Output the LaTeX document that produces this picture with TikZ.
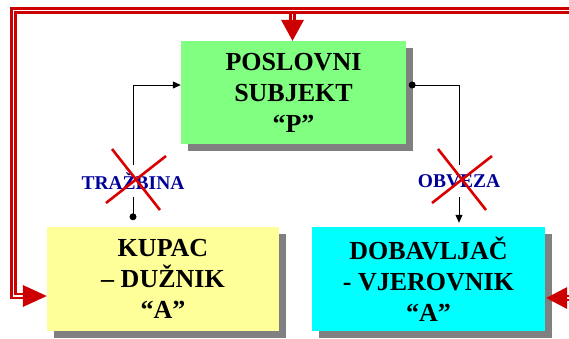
\documentclass[tikz,border=0pt]{standalone}
\usepackage{fontspec}
\setmainfont{Liberation Serif}
\usetikzlibrary{arrows.meta,shadows}
\definecolor{myred}{RGB}{204,0,0}
\definecolor{crossred}{RGB}{218,0,0}
\definecolor{boxgreen}{RGB}{128,255,128}
\definecolor{boxyellow}{RGB}{255,255,153}
\definecolor{boxcyan}{RGB}{0,255,255}
\definecolor{shadowgray}{RGB}{128,128,128}
\definecolor{lblblue}{RGB}{0,0,153}
\begin{document}
\begin{tikzpicture}[x=1pt,y=-1pt,
  box/.style={general shadow={fill=shadowgray, shadow xshift=7pt, shadow yshift=-7pt},
    align=center, inner sep=0pt, font=\fontsize{26}{31}\selectfont\bfseries},
  conn/.style={draw=black, line width=1pt},
  tip/.style={-{Triangle[length=8pt,width=7pt]}},
  lbl/.style={fill=white, inner sep=1pt, minimum height=32pt, text=lblblue,
    font=\fontsize{19.5}{22}\selectfont\bfseries},
  xcross/.style={draw=crossred, line width=2.6pt},
  redline/.style={draw=myred, double=white, line width=2.3pt, double distance=1.6pt},
  redhead/.style={fill=myred}]
\useasboundingbox (0,0) rectangle (569,338);

% boxes
\node[box, fill=boxgreen, minimum width=225pt, minimum height=103pt] (green) at (293.5,92.5)
  {POSLOVNI\\SUBJEKT\\“P”};
\node[box, fill=boxyellow, minimum width=232pt, minimum height=104pt] (yellow) at (163,279)
  {KUPAC\\– DUŽNIK\\“A”};
\node[box, fill=boxcyan, minimum width=233pt, minimum height=104pt] (cyan) at (428.5,279)
  {DOBAVLJAČ\\- VJEROVNIK\\“A”};

% connectors
\coordinate (dotL) at ([shift={(-30,-10)}]yellow.north);
\coordinate (dotR) at ([shift={(6,-7.5)}]green.east);
\draw[conn,tip] (dotL) |- ([shift={(0,-7.5)}]green.west);
\draw[conn,tip] (dotR) -| ([shift={(30.5,-4)}]cyan.north);
\fill (dotL) circle (3.5pt);
\fill (dotR) circle (3.5pt);

% labels
\node[lbl] (lblL) at (133,181) {TRAŽBINA};
\node[lbl] (lblR) at (459,181) {OBVEZA};

% crosses
\foreach \n in {lblL,lblR}{
  \draw[xcross] ([shift={(-21,-32)}]\n.center) -- ([shift={(27,29)}]\n.center);
  \draw[xcross] ([shift={(33,-25)}]\n.center) -- ([shift={(-27,22)}]\n.center);
}

% red arrows
\coordinate (tipG) at ([shift={(-1,0)}]green.north);
\coordinate (tipY) at ([shift={(0,17)}]yellow.west);
\coordinate (tipC) at ([shift={(1,19)}]cyan.east);
\coordinate (corner) at (13.5,10.5);
\coordinate (rstart) at (569,10.5);
\coordinate (redge) at (569,0);

\draw[redline] (tipG |- corner) -- ([shift={(0,-20)}]tipG);
\draw[redline] (rstart) -- (corner) -- (corner |- tipY) -- ([shift={(-22,0)}]tipY);
\draw[redline] (redge |- tipC) -- ([shift={(19,0)}]tipC);

\fill[redhead] (tipG) -- ([shift={(-11.5,-21)}]tipG) -- ([shift={(11.5,-21)}]tipG) -- cycle;
\fill[redhead] (tipY) -- ([shift={(-24,-11)}]tipY) -- ([shift={(-24,11)}]tipY) -- cycle;
\fill[redhead] (tipC) -- ([shift={(21,-11)}]tipC) -- ([shift={(21,11)}]tipC) -- cycle;
\end{tikzpicture}
\end{document}
